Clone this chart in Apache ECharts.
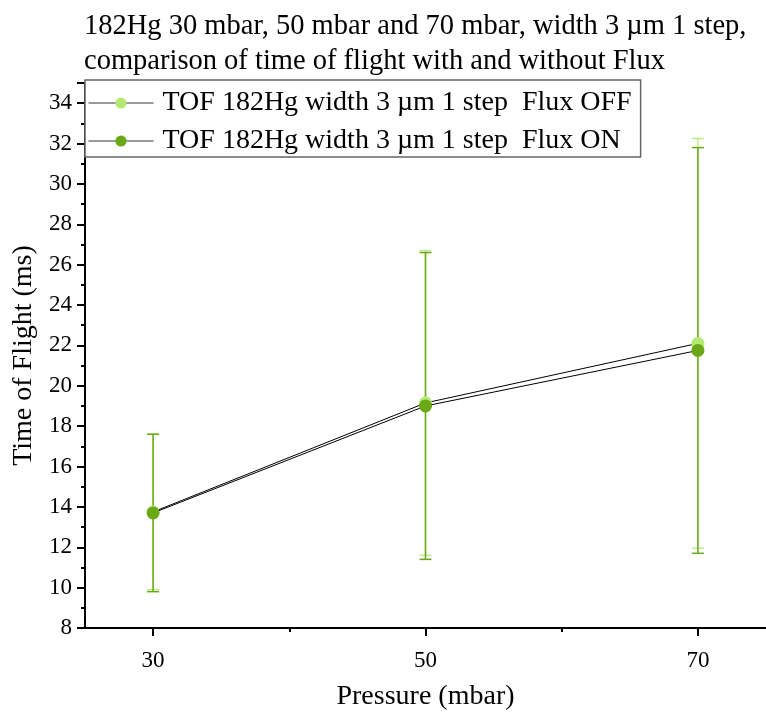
<!DOCTYPE html>
<html>
<head>
<meta charset="utf-8">
<script src="https://cdn.jsdelivr.net/npm/echarts@6/dist/echarts.min.js"></script>
<style>
  html, body { margin: 0; padding: 0; background: #fff; }
  #chart { width: 766px; height: 716px; }
</style>
</head>
<body>
<div id="chart"></div>
<script>
// Pressure settings (mbar)
const pressures = [30, 50, 70];
// Time of flight (ms) and its spread, Flux OFF
const tofFluxOff = [13.75, 19.15, 22.1];
const tofFluxOffErr = [3.85, 7.55, 10.15];
// Time of flight (ms) and its spread, Flux ON
const tofFluxOn = [13.7, 19.0, 21.75];
const tofFluxOnErr = [3.9, 7.6, 10.05];

const seriesNames = [
  'TOF 182Hg width 3 \u00b5m 1 step  Flux OFF',
  'TOF 182Hg width 3 \u00b5m 1 step  Flux ON'
];
const titleText = '182Hg 30 mbar, 50 mbar and 70 mbar, width 3 \u00b5m 1 step,\ncomparison of time of flight with and without Flux';

const colorOff = '#b6e874';
const colorOn = '#6aa818';
const serif = 'Liberation Serif, Times New Roman, serif';

function points(ys) { return pressures.map((p, i) => [p, ys[i]]); }
function bars(ys, errs) { return pressures.map((p, i) => [p, ys[i] - errs[i], ys[i] + errs[i]]); }

function errorBar(color, opacity) {
  return function (params, api) {
    const x = api.value(0);
    const lo = api.coord([x, api.value(1)]);
    const hi = api.coord([x, api.value(2)]);
    const half = 6;
    const style = { stroke: color, lineWidth: 1.5, opacity: opacity };
    return {
      type: 'group',
      children: [
        { type: 'line', shape: { x1: lo[0], y1: lo[1], x2: hi[0], y2: hi[1] }, style },
        { type: 'line', shape: { x1: lo[0] - half, y1: lo[1], x2: lo[0] + half, y2: lo[1] }, style },
        { type: 'line', shape: { x1: hi[0] - half, y1: hi[1], x2: hi[0] + half, y2: hi[1] }, style }
      ]
    };
  };
}

const chart = echarts.init(document.getElementById('chart'), null, { renderer: 'canvas' });

chart.setOption({
  animation: false,
  backgroundColor: '#ffffff',
  title: {
    text: titleText,
    left: 79,
    top: 4,
    textStyle: { fontFamily: serif, fontSize: 28.5, fontWeight: 'normal', color: '#000', lineHeight: 35 }
  },
  legend: {
    left: 85,
    top: 80,
    orient: 'vertical',
    data: seriesNames,
    itemWidth: 65,
    itemHeight: 14,
    itemGap: 10,
    padding: [9, 9, 2, 3],
    borderColor: '#666',
    borderWidth: 1.5,
    backgroundColor: '#fff',
    lineStyle: { width: 1, color: '#333' },
    textStyle: { fontFamily: serif, fontSize: 28, color: '#000', padding: [0, 0, 0, 4] }
  },
  grid: { left: 85, right: -3, top: 83, bottom: 77, containLabel: false },
  xAxis: [{
    type: 'value',
    min: 25,
    max: 75,
    name: 'Pressure (mbar)',
    nameLocation: 'middle',
    nameGap: 55,
    nameTextStyle: { fontFamily: serif, fontSize: 28, color: '#000' },
    axisLine: { show: true, onZero: false, lineStyle: { color: '#000', width: 2 } },
    axisTick: { show: true, customValues: [30, 50, 70], length: 8, lineStyle: { color: '#000', width: 2 } },
    axisLabel: { customValues: [30, 50, 70], margin: 21, fontFamily: serif, fontSize: 23, color: '#000' },
    splitLine: { show: false }
  }, {
    type: 'value',
    min: 25,
    max: 75,
    position: 'bottom',
    axisLine: { show: false },
    axisTick: { show: true, customValues: [40, 60], length: 4, lineStyle: { color: '#000', width: 2 } },
    axisLabel: { show: false },
    splitLine: { show: false }
  }],
  yAxis: {
    type: 'value',
    min: 8,
    max: 35,
    interval: 2,
    name: 'Time of Flight (ms)',
    nameLocation: 'middle',
    nameGap: 33,
    nameTextStyle: { fontFamily: serif, fontSize: 28, color: '#000' },
    axisLine: { show: true, lineStyle: { color: '#000', width: 2 } },
    axisTick: { show: true, length: 8, lineStyle: { color: '#000', width: 2 } },
    minorTick: { show: true, splitNumber: 2, length: 4, lineStyle: { color: '#000', width: 2 } },
    axisLabel: { margin: 13, showMaxLabel: false, fontFamily: serif, fontSize: 23, color: '#000' },
    splitLine: { show: false }
  },
  series: [
    {
      name: seriesNames[0] + ' err',
      type: 'custom',
      renderItem: errorBar(colorOff, 0.85),
      encode: { x: 0, y: [1, 2] },
      data: bars(tofFluxOff, tofFluxOffErr),
      z: 1
    },
    {
      name: seriesNames[1] + ' err',
      type: 'custom',
      renderItem: errorBar(colorOn, 1),
      encode: { x: 0, y: [1, 2] },
      data: bars(tofFluxOn, tofFluxOnErr),
      z: 2
    },
    {
      name: seriesNames[0],
      type: 'line',
      data: points(tofFluxOff),
      symbol: 'circle',
      symbolSize: 13,
      lineStyle: { color: '#000', width: 1 },
      itemStyle: { color: colorOff },
      z: 3
    },
    {
      name: seriesNames[1],
      type: 'line',
      data: points(tofFluxOn),
      symbol: 'circle',
      symbolSize: 13,
      lineStyle: { color: '#000', width: 1 },
      itemStyle: { color: colorOn },
      z: 4
    }
  ]
});
</script>
</body>
</html>
